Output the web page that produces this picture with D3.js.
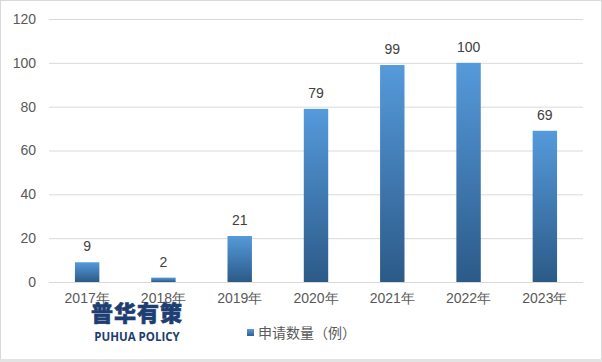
<!DOCTYPE html>
<html><head><meta charset="utf-8">
<script src="https://cdn.jsdelivr.net/npm/d3@7"></script>
<style>body{margin:0;background:#fff;}svg{display:block;font-family:"Noto Sans CJK SC","Microsoft YaHei",sans-serif;}</style>
</head><body>
<svg id="c" width="602" height="362"></svg>
<script>
const categories = ["2017年","2018年","2019年","2020年","2021年","2022年","2023年"];
const values = [9,2,21,79,99,100,69];
const yTicks = [0,20,40,60,80,100,120];
const seriesName = "申请数量（例）";

const svg = d3.select("#c");
const W=602,H=362;
svg.append("rect").attr("x",0.5).attr("y",0.5).attr("width",W-1).attr("height",H-1).attr("fill","#fff").attr("stroke","#d9d9d9").attr("stroke-width",1);
svg.append("rect").attr("x",0).attr("y",H-3).attr("width",W).attr("height",3).attr("fill","#e3e3e3");

const defs = svg.append("defs");
const g1 = defs.append("linearGradient").attr("id","bg").attr("x1",0).attr("y1",0).attr("x2",0).attr("y2",1);
g1.append("stop").attr("offset","0%").attr("stop-color","#559ADB");
g1.append("stop").attr("offset","100%").attr("stop-color","#2C5A88");
const g2 = defs.append("linearGradient").attr("id","lg").attr("x1",0).attr("y1",0).attr("x2",0).attr("y2",1);
g2.append("stop").attr("offset","0%").attr("stop-color","#5B9BD5");
g2.append("stop").attr("offset","100%").attr("stop-color","#2F6096");

const x = d3.scaleBand().domain(categories).range([49,583]).paddingInner(0.68).paddingOuter(0.34);
const y = d3.scaleLinear().domain([0,120]).range([282,19]);

const numFont = "'Liberation Sans',Arial,sans-serif";

// gridlines
svg.append("g").selectAll("line").data(yTicks.filter(d=>d>0)).join("line")
  .attr("x1",49).attr("x2",583).attr("y1",d=>y(d)+0.5).attr("y2",d=>y(d)+0.5)
  .attr("stroke","#d9d9d9").attr("stroke-width",1);

// y axis labels
const yAxis = d3.axisLeft(y).tickValues(yTicks).tickSize(0).tickPadding(9);
const ya = svg.append("g").attr("transform","translate(45,0)").call(yAxis);
ya.select(".domain").remove();
ya.selectAll("text").attr("font-size",14).attr("fill","#595959").attr("font-family",numFont);

// bars
svg.append("g").selectAll("rect").data(values).join("rect")
  .attr("x",(d,i)=>x(categories[i])).attr("width",x.bandwidth())
  .attr("y",d=>y(d)).attr("height",d=>y(0)-y(d)).attr("fill","url(#bg)");

// baseline
svg.append("line").attr("x1",49).attr("x2",583).attr("y1",y(0)+0.5).attr("y2",y(0)+0.5).attr("stroke","#d9d9d9");

// data labels
svg.append("g").selectAll("text").data(values).join("text")
  .attr("x",(d,i)=>x(categories[i])+x.bandwidth()/2).attr("y",d=>y(d)-11)
  .attr("text-anchor","middle").attr("font-size",14).attr("fill","#404040")
  .attr("font-family",numFont).text(d=>d);

// x labels
const xAxis = d3.axisBottom(x).tickSize(0).tickPadding(11);
const xa = svg.append("g").attr("transform",`translate(0,${y(0)})`).call(xAxis);
xa.select(".domain").remove();
xa.selectAll("text").attr("font-size",14).attr("fill","#595959");

// watermark
svg.append("text").attr("x",137).attr("y",321).attr("text-anchor","middle").attr("font-size",22).attr("font-weight","900").attr("fill","#1d3e73").attr("stroke","#1d3e73").attr("stroke-width",0.6).attr("letter-spacing",1).text("普华有策");
svg.append("text").attr("x",137).attr("y",341).attr("text-anchor","middle").attr("font-size",11.5).attr("font-weight","bold").attr("fill","#1d3e73").attr("font-family","'Open Sans','Liberation Sans',sans-serif").text("PUHUA POLICY");

// legend
svg.append("rect").attr("x",247).attr("y",329).attr("width",7).attr("height",7).attr("fill","url(#lg)");
svg.append("text").attr("x",258).attr("y",338).attr("font-size",14).attr("fill","#595959").text(seriesName);
</script>
</body></html>
